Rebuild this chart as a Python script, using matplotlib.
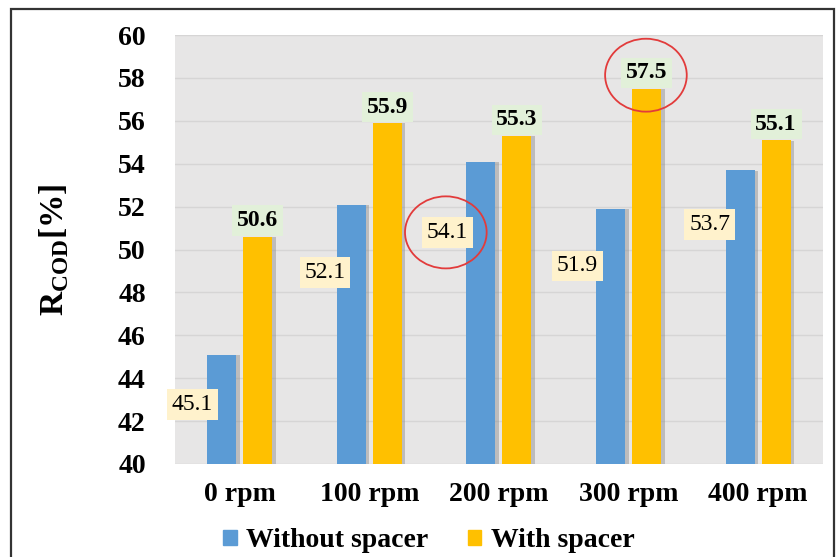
import matplotlib
matplotlib.use('Agg')
import matplotlib.pyplot as plt
import matplotlib.patheffects as pe
from matplotlib.patches import Ellipse, Rectangle, Patch
import numpy as np

# data
speeds = ['0 rpm', '100 rpm', '200 rpm', '300 rpm', '400 rpm']
without_spacer = [45.1, 52.1, 54.1, 51.9, 53.7]
with_spacer = [50.6, 55.9, 55.3, 57.5, 55.1]

plt.rcParams['font.family'] = ['Liberation Serif', 'DejaVu Serif']
plt.rcParams['mathtext.fontset'] = 'custom'
plt.rcParams['mathtext.rm'] = 'Liberation Serif:bold'

BLUE = '#5b9bd5'
GOLD = '#ffc000'

fig = plt.figure(figsize=(8.36, 5.57), dpi=100)
ax = fig.add_axes([0.2093, 0.167, 0.7751, 0.770])
ax.set_facecolor('#e7e6e6')

x = np.arange(len(speeds))
w = 0.224
off = 0.139
shadow = [pe.SimplePatchShadow(offset=(2.5, -0.3), shadow_rgbFace='#8a8a8a', alpha=0.45), pe.Normal()]
b1 = ax.bar(x - off, without_spacer, w, color=BLUE, zorder=3, path_effects=shadow)
b2 = ax.bar(x + off, with_spacer, w, color=GOLD, zorder=3, path_effects=shadow)

ax.set_ylim(40, 60)
ax.set_xlim(-0.5, len(speeds) - 0.5)
ax.set_yticks(np.arange(40, 61, 2))
ax.set_xticks(x)
ax.set_xticklabels(speeds)
ax.grid(axis='y', color='#d6d5d5', lw=1.0, zorder=0)
ax.set_axisbelow(True)
for s in ax.spines.values():
    s.set_visible(False)
ax.tick_params(axis='y', length=0, pad=21, labelsize=20)
ax.tick_params(axis='x', length=0, pad=13, labelsize=20)
for lab in ax.get_xticklabels() + ax.get_yticklabels():
    lab.set_fontweight('bold')

ax.set_ylabel(r'R$_{\rm COD}$[%]', fontsize=24, fontweight='bold', labelpad=34)

# labels of the blue series sit to the left of each bar (offsets in points)
blue_dx = [-21, -19, -24, -24, -22]
blue_dy = [-36, -49, -51, -41, -39]
for i, v in enumerate(without_spacer):
    ax.annotate(f'{v:.1f}', (x[i] - off, v), xytext=(blue_dx[i], blue_dy[i]),
                textcoords='offset points', ha='center', va='center', fontsize=17,
                bbox=dict(boxstyle='square,pad=0.2', fc='#fff2cc', ec='none'), zorder=5)
for i, v in enumerate(with_spacer):
    ax.annotate(f'{v:.1f}', (x[i] + off, v), xytext=(0, 11.5),
                textcoords='offset points', ha='center', va='center', fontsize=17,
                fontweight='bold',
                bbox=dict(boxstyle='square,pad=0.2', fc='#e2f0d9', ec='none'), zorder=5)

# red highlight circles
ax.add_patch(Ellipse((2 - 0.41, 50.8), 0.63, 3.36, fill=False, ec='#e23b3b', lw=1.3, zorder=6))
ax.add_patch(Ellipse((3 + 0.134, 58.13), 0.63, 3.4, fill=False, ec='#e23b3b', lw=1.3, zorder=6,
                     clip_on=False))

handles = [Patch(color=BLUE, label='Without spacer'), Patch(color=GOLD, label='With spacer')]
fig.legend(handles=handles, loc='center', bbox_to_anchor=(0.513, 0.029), ncol=2, frameon=False,
           prop=dict(family='Liberation Serif', weight='bold', size=20),
           handlelength=0.5, handleheight=0.5, handletextpad=0.35, columnspacing=1.4)

# outer frame of the figure
fig.add_artist(Rectangle((11 / 836, -0.02), 823 / 836, 1 - 9 / 557 + 0.02,
                         transform=fig.transFigure, fill=False, ec='#333333', lw=1.6))

fig.savefig('out.png', dpi=100)
